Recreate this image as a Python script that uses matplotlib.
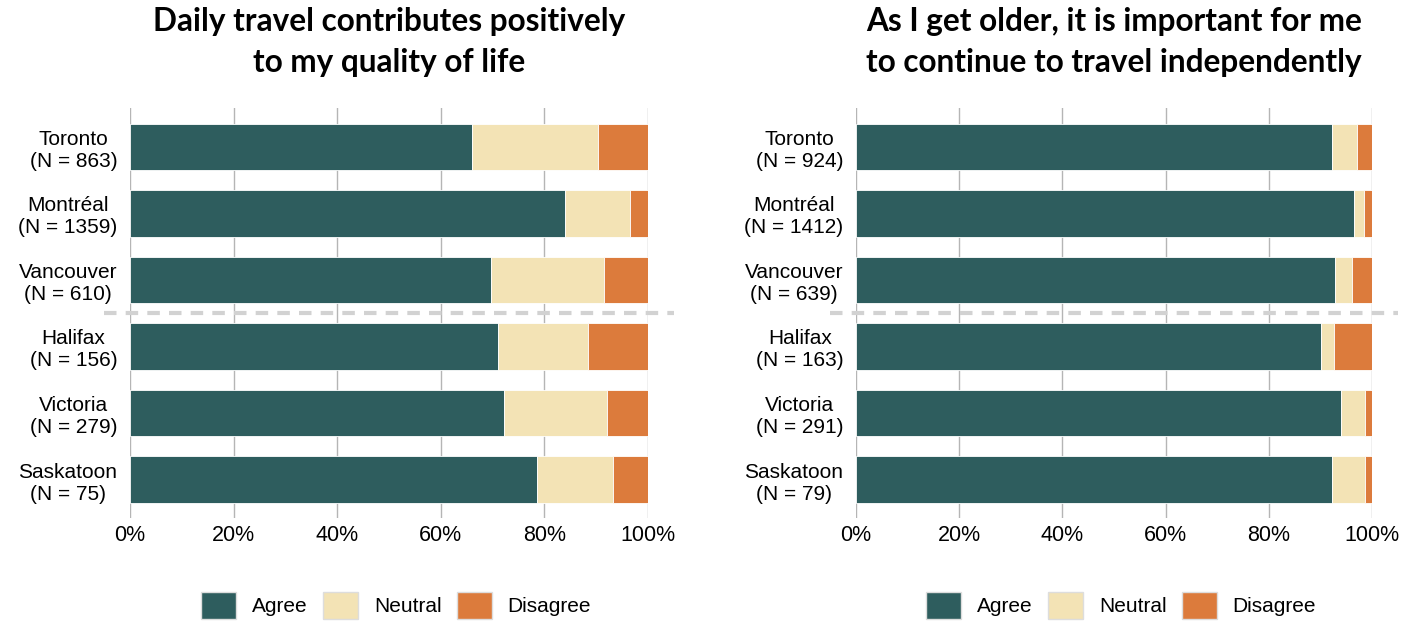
import numpy as np
import matplotlib
matplotlib.use('Agg')
import matplotlib.pyplot as plt
from matplotlib.patches import Patch

# Data (shares, 0-1)
cities = ['Toronto', 'Montréal', 'Vancouver', 'Halifax', 'Victoria', 'Saskatoon']
n_left = [863, 1359, 610, 156, 279, 75]
n_right = [924, 1412, 639, 163, 291, 79]

agree_left = [0.660, 0.839, 0.697, 0.711, 0.722, 0.786]
neutral_left = [0.243, 0.127, 0.219, 0.173, 0.199, 0.147]
disagree_left = [0.097, 0.034, 0.084, 0.116, 0.079, 0.067]

agree_right = [0.922, 0.966, 0.928, 0.901, 0.941, 0.923]
neutral_right = [0.050, 0.018, 0.033, 0.025, 0.046, 0.064]
disagree_right = [0.028, 0.016, 0.039, 0.074, 0.013, 0.013]

titles = ['Daily travel contributes positively\nto my quality of life',
          'As I get older, it is important for me\nto continue to travel independently']
labels = ['Agree', 'Neutral', 'Disagree']
colors = ['#2e5d5e', '#f3e3b5', '#dc7b3c']

plt.rcParams['font.family'] = ['Liberation Sans', 'DejaVu Sans']

fig = plt.figure(figsize=(14.17, 6.22), dpi=100)
ax1 = fig.add_axes([0.0917, 0.167, 0.3656, 0.659])
ax2 = fig.add_axes([0.6041, 0.167, 0.3641, 0.659])

panels = [
    (ax1, n_left, [agree_left, neutral_left, disagree_left], titles[0]),
    (ax2, n_right, [agree_right, neutral_right, disagree_right], titles[1]),
]

for ax, ns, series, title in panels:
    y = np.arange(len(cities))
    left = np.zeros(len(cities))
    for vals, lab, col in zip(series, labels, colors):
        ax.barh(y, vals, left=left, height=0.7, color=col, label=lab,
                edgecolor='white', linewidth=0.6, zorder=2)
        left = left + np.array(vals)

    ax.set_xlim(0, 1)
    ax.set_ylim(5.58, -0.58)
    ax.set_yticks(y)
    ax.set_yticklabels([f'{c}\n(N = {n})' for c, n in zip(cities, ns)],
                       fontsize=15, ha='right')
    for t in ax.get_yticklabels():
        t.set_multialignment('center')
    ax.set_xticks([0, 0.2, 0.4, 0.6, 0.8, 1.0])
    ax.set_xticklabels(['0%', '20%', '40%', '60%', '80%', '100%'], fontsize=15.5)
    ax.tick_params(axis='y', length=0, pad=9)
    ax.tick_params(axis='x', length=0, pad=5)
    ax.grid(axis='x', color='#b5b5b5', linewidth=1, zorder=0)
    ax.set_axisbelow(True)
    for s in ax.spines.values():
        s.set_visible(False)

    # dashed separator between big and small cities
    ax.plot([-0.05, 1.05], [2.5, 2.5], transform=ax.get_yaxis_transform(),
            color='#d2d2d2', linewidth=3, linestyle=(0, (3, 2.2)),
            clip_on=False, zorder=3)

    ax.set_title(title, fontsize=22.7, fontweight='bold', family='Lato',
                 linespacing=1.5, pad=26)

    handles = [Patch(facecolor=c, edgecolor='#dddddd', label=l)
               for c, l in zip(colors, labels)]
    ax.legend(handles=handles, loc='center', bbox_to_anchor=(0.514, -0.213),
              ncol=3, frameon=False, fontsize=15, handlelength=1.68,
              handleheight=1.68, handletextpad=0.75, columnspacing=0.75)

fig.savefig('out.png', dpi=100)
